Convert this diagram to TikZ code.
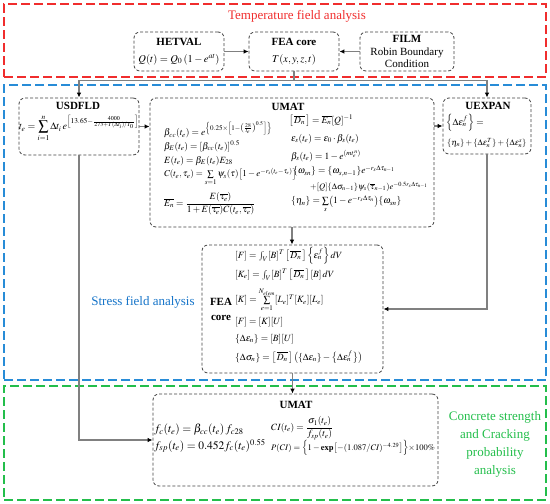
\documentclass[tikz,border=0pt]{standalone}
\usepackage{amsmath}
\usepackage{mathptmx}
\usepackage{fontspec}
\setmainfont{Liberation Serif}
\usetikzlibrary{arrows.meta}

\definecolor{tempred}{RGB}{240,45,45}
\definecolor{stressblue}{RGB}{40,140,215}
\definecolor{stresstext}{RGB}{20,115,200}
\definecolor{crackgreen}{RGB}{35,190,75}

\begin{document}
\begin{tikzpicture}[
  x=1pt, y=-1pt,
  frame/.style={
    dash pattern=on 9pt off 4pt,
    line width=1.4pt,
    inner sep=0pt,
    minimum width=542pt
  },
  box/.style={
    draw=black!75,
    dash pattern=on 3pt off 2pt,
    line width=0.8pt,
    rounded corners=6pt,
    inner sep=1pt
  },
  boxtext/.style={align=center, font=\fontsize{11}{12.5}\selectfont},
  title/.style={font=\fontsize{11}{15}\selectfont\bfseries},
  eq/.style={anchor=west, inner sep=0pt, font=\fontsize{9.5}{12}\selectfont},
  smalleq/.style={eq, font=\fontsize{8.5}{11}\selectfont},
  bigeq/.style={eq, font=\fontsize{11.5}{14}\selectfont},
  label/.style={font=\fontsize{13}{18}\selectfont},
  link/.style={draw=black!50, line width=1.2pt},
  arr/.style={link, -{Latex[length=5pt,width=4.5pt,black]}}
]
\useasboundingbox (0,0) rectangle (550,504);

% analysis regions
\node[frame, draw=tempred, minimum height=73pt] (tempframe) at (275,40.5) {};
\node[frame, draw=stressblue, minimum height=295pt] (stressframe) at (275,232.5) {};
\node[frame, draw=crackgreen, minimum height=114pt] (crackframe) at (275,443) {};

\node[label, text=tempred] (templabel) at (297,16) {Temperature field analysis};
\node[label, text=stresstext] (stresslabel) at (143,302) {Stress field analysis};
\node[label, text=crackgreen, align=center] (cracklabel) at (495,444)
  {Concrete strength\\and Cracking\\probability\\analysis};

% temperature subroutines
\node[box, boxtext, minimum width=90pt, minimum height=39pt] (hetval) at (179,51.5)
  {\textbf{HETVAL}\\[4pt]{\fontsize{10.5}{12}\selectfont$Q(t)=Q_0\left(1-e^{at}\right)$}};
\node[box, boxtext, minimum width=90pt, minimum height=39pt] (feacore) at (294,51.5)
  {\textbf{FEA core}\\[4pt]{\fontsize{10.5}{12}\selectfont$T(x,y,z,t)$}};
\node[box, boxtext, minimum width=94pt, minimum height=39pt] (film) at (407,51.5)
  {\textbf{FILM}\\Robin Boundary\\Condition};

% stress subroutines
\node[box, minimum width=120pt, minimum height=57pt] (usdfld) at (79,126.5) {};
\node[box, minimum width=284pt, minimum height=129pt] (umat) at (292,162.5) {};
\node[box, minimum width=88pt, minimum height=56pt] (uexpan) at (487,126) {};
\node[box, minimum width=181pt, minimum height=128pt] (feasolve) at (292.5,309) {};

% cracking subroutine
\node[box, minimum width=285pt, minimum height=92pt] (umatcrack) at (295.5,440) {};

% USDFLD
\node[title] (usdfldtitle) at (78,106) {USDFLD};
\node[eq, font=\fontsize{10}{12}\selectfont] (usdfldeq) at (19,128)
  {$t_e=\displaystyle\sum_{i=1}^{n}\Delta t_i\,e^{\left[13.65-\frac{4000}{273+T(\Delta t_i)/T_0}\right]}$};

% UMAT
\node[title] (umattitle) at (288,107) {UMAT};
\node[eq] (bcc) at (164,130)
  {$\beta_{cc}(t_e)=e^{\left\{0.25\times\left[1-\left(\frac{28}{t_e}\right)^{0.5}\right]\right\}}$};
\node[eq] (bE) at (164,146) {$\beta_E(t_e)=\left[\beta_{cc}(t_e)\right]^{0.5}$};
\node[eq] (Et) at (164,161) {$E(t_e)=\beta_E(t_e)E_{28}$};
\node[eq, font=\fontsize{9}{11}\selectfont] (Ct) at (164,177)
  {$C(t_e,\tau_e)=\sum\limits_{s=1}\psi_s(\tau)\bigl[1-e^{-r_s(t_e-\tau_e)}\bigr]$};
\node[eq] (En) at (164,204)
  {$\overline{E_n}=\dfrac{E(\overline{\tau_e})}{1+E(\overline{\tau_e})C(t_e,\overline{\tau_e})}$};
\node[eq] (Dn) at (289,121) {$\left[\,\overline{D_n}\,\right]=\overline{E_n}[Q]^{-1}$};
\node[eq] (epss) at (291,139) {$\varepsilon_s(t_e)=\varepsilon_0\cdot\beta_s(t_e)$};
\node[eq] (betas) at (291,156) {$\beta_s(t_e)=1-e^{(mt_e^{\,n})}$};
\node[eq] (omega) at (293,171)
  {$\{\omega_{sn}\}=\{\omega_{s,n-1}\}e^{-r_s\Delta\tau_{n-1}}$};
\node[smalleq] (omegaq) at (310,187)
  {$+[Q]\{\Delta\sigma_{n-1}\}\psi_s(\overline{\tau}_{n-1})e^{-0.5r_s\Delta\tau_{n-1}}$};
\node[eq] (eta) at (291,204)
  {$\{\eta_n\}=\sum\limits_s\bigl(1-e^{-r_s\Delta\tau_n}\bigr)\{\omega_{sn}\}$};

% UEXPAN
\node[title] (uexpantitle) at (488,106) {UEXPAN};
\node[eq] (expf) at (446,123) {$\left\{\Delta\varepsilon_n^f\right\}=$};
\node[smalleq] (expsum) at (447,143)
  {$\{\eta_n\}+\{\Delta\varepsilon_n^T\}+\{\Delta\varepsilon_n^s\}$};

% FEA core (stress)
\node[title, align=center] (feasolvetitle) at (221,309) {FEA\\core};
\node[eq] (Fint) at (235,256)
  {$[F]=\int_V[B]^T\left[\,\overline{D_n}\,\right]\left\{\varepsilon_n^f\right\}dV$};
\node[eq] (Ke) at (235,275)
  {$[K_e]=\int_V[B]^T\left[\,\overline{D_n}\,\right][B]\,dV$};
\node[eq] (Kglob) at (235,300)
  {$[K]=\sum\limits_{e=1}^{N_{elem}}[L_e]^T[K_e][L_e]$};
\node[eq] (FKU) at (235,322) {$[F]=[K][U]$};
\node[eq] (deps) at (235,339) {$\{\Delta\varepsilon_n\}=[B][U]$};
\node[eq] (dsig) at (235,357)
  {$\{\Delta\sigma_n\}=\left[\,\overline{D_n}\,\right]\bigl(\{\Delta\varepsilon_n\}-\bigl\{\Delta\varepsilon_n^f\bigr\}\bigr)$};

% UMAT (cracking)
\node[title] (umatcracktitle) at (296,405) {UMAT};
\node[bigeq] (fc) at (154,430) {$f_c(t_e)=\beta_{cc}(t_e)\,f_{c28}$};
\node[bigeq] (fsp) at (154,446) {$f_{sp}(t_e)=0.452f_c(t_e)^{0.55}$};
\node[eq] (ci) at (271,428) {$CI(t_e)=\dfrac{\sigma_1(t_e)}{f_{sp}(t_e)}$};
\node[smalleq] (pci) at (271,448)
  {$P(CI)=\Bigl\{1-\mathbf{exp}\bigl[-(1.087/CI)^{-4.29}\bigr]\Bigr\}{\times}100\%$};

% connectors
\draw[arr] (hetval) -- (feacore);
\draw[arr] (film) -- (feacore);
\draw[arr] (feacore.south) -- ++(0,9) -| (usdfld.north);
\draw[arr] (feacore.south) -- ++(0,9) -| (uexpan.north);
\draw[arr] (usdfld.east) -- (usdfld.east -| umat.west);
\draw[arr] (umat.east |- uexpan.west) -- (uexpan.west);
\draw[arr] (umat.south) -- (umat.south |- feasolve.north);
\draw[arr] (uexpan.south) |- (feasolve.east);
\draw[arr] (feasolve.south) -- (feasolve.south |- umatcrack.north);
\draw[arr] (usdfld.south) |- (umatcrack.west);
\end{tikzpicture}
\end{document}
